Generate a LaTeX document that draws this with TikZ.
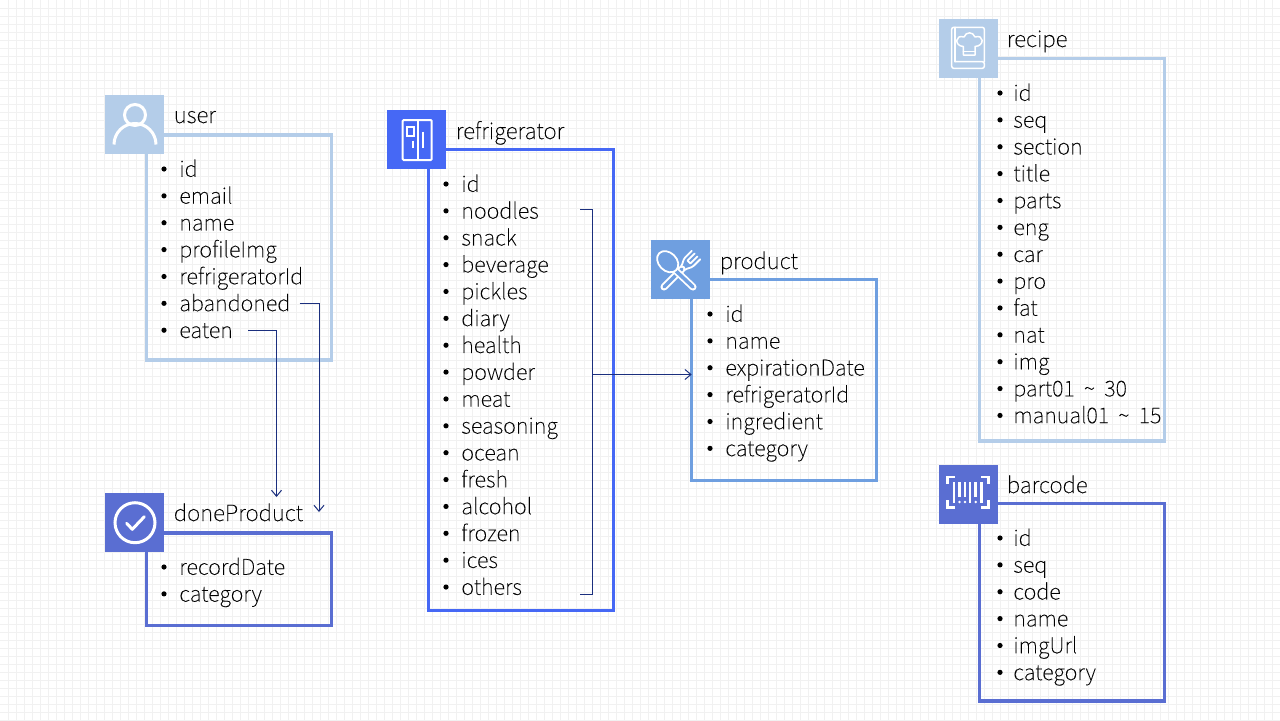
\documentclass[tikz,border=0pt]{standalone}
\usepackage{fontspec}
\setmainfont{Noto Sans CJK KR Thin}[FakeBold=0.25]
\usetikzlibrary{arrows.meta,calc}

\definecolor{paleblue}{HTML}{B4CDE9}
\definecolor{midblue}{HTML}{6F9FE0}
\definecolor{deepblue}{HTML}{4668F5}
\definecolor{slateblue}{HTML}{5A6ED2}
\definecolor{gridgray}{HTML}{F1F1F1}
\definecolor{linknavy}{HTML}{1B2F7E}

\tikzset{
  iconbox/.style={minimum size=1.18cm, inner sep=0pt, outer sep=0pt},
  tablebox/.style={draw, line width=0.064cm, minimum width=3.7cm, inner sep=0pt, outer sep=0pt},
  titletext/.style={anchor=base west, inner sep=0pt, font=\fontsize{12.7pt}{14pt}\selectfont},
  rowtext/.style={anchor=west, inner sep=0pt, text height=0.39cm, text depth=0.08cm, font=\fontsize{12.35pt}{14pt}\selectfont},
  link/.style={->, line width=0.02cm, draw=linknavy, >={Straight Barb[length=0.12cm, width=0.2cm, line width=0.02cm]}},
  plainlink/.style={line width=0.02cm, draw=linknavy},
  iconline/.style={draw=white, line width=0.06cm},
  thinicon/.style={draw=white, line width=0.03cm, line join=round, line cap=round},
  handle/.style={draw=white, line width=0.036cm, double=midblue, double distance=0.07cm, line cap=round}
}

\begin{document}
\begin{tikzpicture}[x=0.02cm, y=-0.02cm]
  \def\rowgap{26.87}
  \useasboundingbox (0,0) rectangle (1280,720);

  % Background grid
  \foreach \gx in {8,16,...,1280} \draw[gridgray, line width=0.02cm] (\gx+0.5,0) -- (\gx+0.5,720);
  \foreach \gy in {8,16,...,720} \draw[gridgray, line width=0.02cm] (0,\gy+0.5) -- (1280,\gy+0.5);

  % user table
  \node[tablebox, draw=paleblue, minimum height=4.5cm] (userbox) at (238.8,247.5) {};
  \node[iconbox, fill=paleblue] (usericon) at (134.5,124.5) {};
  \node[titletext] (usertitle) at (173.5,123) {user};
  \foreach \f [count=\i] in {id,email,name,profileImg,refrigeratorId,abandoned,eaten} {
    \fill (164,{169+\rowgap*(\i-1)}) circle (2.6);
    \node[rowtext] (user\i) at (179,{169+\rowgap*(\i-1)}) {\f};
  }
  \draw[iconline] (135,115) circle (10.5);
  \draw[iconline] (114,144.5) arc[start angle=180, end angle=360, radius=21];

  % doneProduct table
  \node[tablebox, draw=slateblue, minimum height=1.846cm] (donebox) at (238.8,579.2) {};
  \node[iconbox, fill=slateblue] (doneicon) at (134.5,522.2) {};
  \node[titletext] (donetitle) at (173.5,521) {doneProduct};
  \foreach \f [count=\i] in {recordDate,category} {
    \fill (164,{567+\rowgap*(\i-1)}) circle (2.6);
    \node[rowtext] (done\i) at (179,{567+\rowgap*(\i-1)}) {\f};
  }
  \draw[iconline] (135,522.7) circle (20);
  \draw[iconline, line cap=round, line join=round] (126.7,523.3) -- (132.3,529.3) -- (144.3,516.7);

  % refrigerator table
  \node[tablebox, draw=deepblue, minimum height=9.22cm] (fridgebox) at (521,379.8) {};
  \node[iconbox, fill=deepblue] (fridgeicon) at (416.3,139.5) {};
  \node[titletext] (fridgetitle) at (455.5,139) {refrigerator};
  \foreach \f [count=\i] in {id,noodles,snack,beverage,pickles,diary,health,powder,meat,seasoning,ocean,fresh,alcohol,frozen,ices,others} {
    \fill (446,{184+\rowgap*(\i-1)}) circle (2.6);
    \node[rowtext] (fridge\i) at (461,{184+\rowgap*(\i-1)}) {\f};
  }
  \draw[white, line width=0.04cm, rounded corners=0.02cm] (402.7,120) rectangle (431.7,160);
  \draw[white, line width=0.04cm] (417.5,120) -- (417.5,160);
  \draw[white, line width=0.04cm] (406.7,126.7) rectangle (414,135.7);
  \draw[white, line width=0.04cm] (413.3,140.7) -- (413.3,147.7);
  \draw[white, line width=0.04cm] (422.7,131.7) -- (422.7,148.3);

  % product table
  \node[tablebox, draw=midblue, minimum height=4.02cm] (productbox) at (784.2,379.8) {};
  \node[iconbox, fill=midblue] (producticon) at (680.5,269.5) {};
  \node[titletext] (producttitle) at (719.5,269) {product};
  \foreach \f [count=\i] in {id,name,expirationDate,refrigeratorId,ingredient,category} {
    \fill (710,{314+\rowgap*(\i-1)}) circle (2.6);
    \node[rowtext] (product\i) at (725,{314+\rowgap*(\i-1)}) {\f};
  }
  % crossed spoon and fork
  \draw[handle] (664,287) -- (682,269);
  \begin{scope}[shift={(684,267)}, rotate=45]
    \draw[thinicon, line width=0.036cm] (17,-6) -- (8,-6) .. controls (4,-6) and (2,-3) .. (-2,-2.5);
    \draw[thinicon, line width=0.036cm] (17,6) -- (8,6) .. controls (4,6) and (2,3) .. (-2,2.5);
    \draw[thinicon, line width=0.036cm] (17,-2) -- (7,-2) -- (7,2) -- (17,2);
  \end{scope}
  \draw[handle] (675,270) -- (693,287);
  \draw[white, line width=0.036cm, fill=midblue, rotate around={-45:(667.7,261.7)}] (667.7,261.7) ellipse (12 and 9);

  % recipe table
  \node[tablebox, draw=paleblue, minimum height=7.65cm] (recipebox) at (1071.8,249.7) {};
  \node[iconbox, fill=paleblue] (recipeicon) at (968.5,48.5) {};
  \node[titletext] (recipetitle) at (1006.5,47) {recipe};
  \foreach \f [count=\i] in {id,seq,section,title,parts,eng,car,pro,fat,nat,img,part01\hspace{2.5pt} \textasciitilde\hspace{2.5pt} 30,manual01\hspace{2.5pt} \textasciitilde\hspace{2.5pt} 15} {
    \fill (1000,{93+\rowgap*(\i-1)}) circle (2.6);
    \node[rowtext] (recipe\i) at (1013,{93+\rowgap*(\i-1)}) {\f};
  }
  % cook book with a chef hat
  \draw[thinicon, rounded corners=0.04cm] (984.3,61.7) -- (984.3,27.3) -- (951.7,27.3) -- (951.7,68.3) -- (984.3,68.3) -- (984.3,61.7) -- (955,61.7);
  \draw[thinicon] (955,27.3) -- (955,61.7);
  \draw[thinicon] (963.3,55) -- (963.3,46.5) .. controls (954,46) and (955,34) .. (964,37) .. controls (966,31.5) and (973,31.5) .. (975,37) .. controls (984,34) and (985,46) .. (975,46.5) -- (975,55) -- cycle;
  \draw[thinicon] (963.3,51.7) -- (975,51.7);

  % barcode table
  \node[tablebox, draw=slateblue, minimum height=3.95cm] (barcodebox) at (1071.8,602.2) {};
  \node[iconbox, fill=slateblue] (barcodeicon) at (968.5,494.5) {};
  \node[titletext] (barcodetitle) at (1006.5,493) {barcode};
  \foreach \f [count=\i] in {id,seq,code,name,imgUrl,category} {
    \fill (1000,{538+\rowgap*(\i-1)}) circle (2.6);
    \node[rowtext] (barcode\i) at (1013,{538+\rowgap*(\i-1)}) {\f};
  }
  % scan frame and bars
  \draw[white, line width=0.05cm] (947.5,484) -- (947.5,476.8) -- (955,476.8);
  \draw[white, line width=0.05cm] (981,476.8) -- (988.5,476.8) -- (988.5,484);
  \draw[white, line width=0.05cm] (947.5,500) -- (947.5,507.3) -- (955,507.3);
  \draw[white, line width=0.05cm] (981,507.3) -- (988.5,507.3) -- (988.5,500);
  \foreach \bx/\by in {954/503,959.5/497,965/497,970/503,975.7/497,981.7/503}
    \draw[white, line width=0.05cm] (\bx,482) -- (\bx,\by);
  \foreach \bx in {959.5,965,975.7}
    \fill[white] (\bx,502) circle (1.4);

  % Connectors
  \coordinate (eatentip) at (276.5,497);
  \coordinate (abandonedtip) at (319,512);
  \draw[link] ([xshift=0.3cm]user7.east) -| (eatentip);
  \draw[link] ([xshift=0.18cm]user6.east) -| (abandonedtip);

  \coordinate (brackettop) at (580,209.5);
  \coordinate (bracketbottom) at (580,594.5);
  \coordinate (bracketmid) at (592.5,374.5);
  \draw[plainlink] (brackettop) -- (592.5,209.5) -- (592.5,594.5) -- (bracketbottom);
  \draw[link] (bracketmid) -- (bracketmid -| productbox.west);
\end{tikzpicture}
\end{document}
